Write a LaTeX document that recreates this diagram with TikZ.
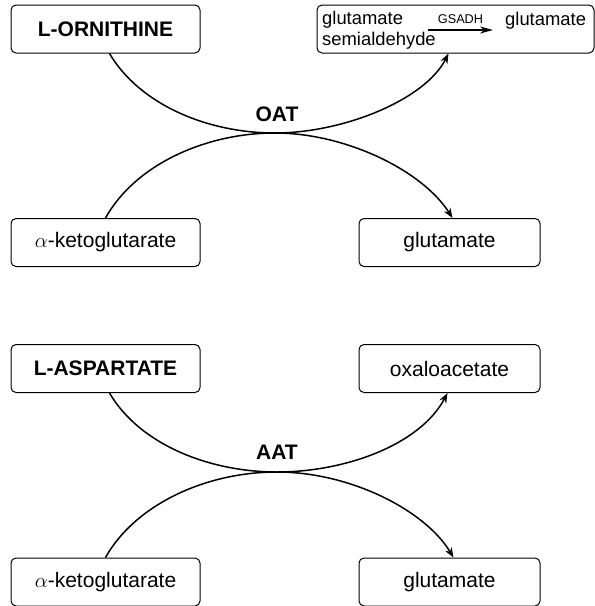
\documentclass[tikz,border=0pt]{standalone}
\usepackage{fontspec}
\setmainfont{Liberation Sans}
\usetikzlibrary{arrows.meta,positioning}

\begin{document}
\begin{tikzpicture}[x=1pt, y=-1pt, every node/.style={font=\fontsize{21}{24}\selectfont},
			box/.style={draw, line width=1pt, rounded corners=5pt, minimum height=48pt, inner sep=0pt},
			lbox/.style={box, minimum width=189pt},
			rbox/.style={box, minimum width=181pt},
			lead/.style={font=\fontsize{21}{24}\selectfont\bfseries},
			small/.style={inner sep=0pt, font=\fontsize{18.4}{21}\selectfont},
			flow/.style={line width=1.5pt, -{Stealth[length=10pt, width=7.5pt]}},
			rxn/.style={line width=1.5pt}]
			\useasboundingbox (0,0) rectangle (595,606);
			% ornithine aminotransferase
			\node[lbox, lead] (orn) at (105.5,29) {L-ORNITHINE};
			\node[box, minimum width=277pt] (gsabox) at (455.5,29) {};
			\node[small, anchor=north west, align=left] (gsa) at (322,11) {glutamate\\semialdehyde};
			\node[small, anchor=base west] (glu0) at (505,25) {glutamate};
			\coordinate (gsadh) at (428,30);
			\draw[line width=1.4pt, -{Stealth[length=13pt, width=7pt]}] (gsadh) -- node[above=2pt, font=\fontsize{12.7}{14}\selectfont] {GSADH} ([xshift=-12pt]glu0.west |- gsadh);
			\node[lbox] (akg1) at (105.5,242.5) {$\alpha$-ketoglutarate};
			\node[rbox] (glu1) at (449.5,242.5) {glutamate};
			\coordinate (oat) at (275,133);
			\node[lead] at (277,114.5) {OAT};
			\draw[flow] ([xshift=4pt]orn.south) .. controls (140,105) and (208,133) .. (oat) .. controls (343,133) and (425,100) .. ([xshift=-7pt]gsabox.south);
			\draw[flow] (akg1.north) .. controls (135,165) and (205,133) .. (oat) .. controls (345,133) and (422,170) .. ([xshift=3pt]glu1.north);
			% aspartate aminotransferase
			\node[lbox, lead] (asp) at (105.5,368.5) {L-ASPARTATE};
			\node[rbox] (oxa) at (449.5,368.5) {oxaloacetate};
			\node[lbox] (akg2) at (105.5,582) {$\alpha$-ketoglutarate};
			\node[rbox] (glu2) at (449.5,582) {glutamate};
			\coordinate (aat) at (277,472);
			\node[lead] at (277,452.5) {AAT};
			\draw[flow] ([xshift=4pt]asp.south) .. controls (140,445) and (210,472) .. (aat) .. controls (345,472) and (420,445) .. ([xshift=-2pt]oxa.south);
			\draw[flow] (akg2.north) .. controls (135,505) and (205,472) .. (aat) .. controls (350,472) and (425,510) .. ([xshift=4pt]glu2.north);
		\end{tikzpicture}
\end{document}
